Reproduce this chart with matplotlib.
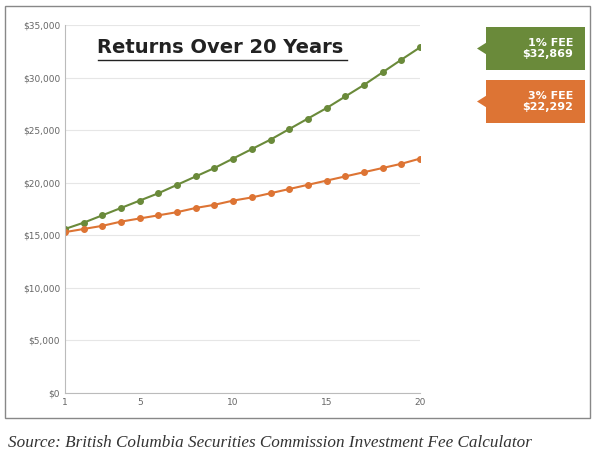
import matplotlib
matplotlib.use("Agg")
import matplotlib.pyplot as plt
from matplotlib.patches import Rectangle, Polygon

years = list(range(1, 21))
fee1 = [15600, 16200, 16900, 17600, 18300, 19000, 19800, 20600, 21400, 22300,
        23200, 24100, 25100, 26100, 27100, 28200, 29300, 30500, 31700, 32869]
fee3 = [15300, 15600, 15900, 16300, 16600, 16900, 17200, 17600, 17900, 18300,
        18600, 19000, 19400, 19800, 20200, 20600, 21000, 21400, 21800, 22292]
yticks = [0, 5000, 10000, 15000, 20000, 25000, 30000, 35000]
xticks = [1, 5, 10, 15, 20]
green = "#6a8a3a"
orange = "#dd7434"

fig = plt.figure(figsize=(6, 4.73), dpi=100)
fig.patches.append(Rectangle((5/600, 1-418/473), 585/600, 412/473, transform=fig.transFigure,
                             fill=False, edgecolor="#888888", lw=1))
ax = fig.add_axes([65/600, 1-393/473, 355/600, 368/473])
ax.plot(years, fee1, color=green, marker="o", ms=4, lw=1.5)
ax.plot(years, fee3, color=orange, marker="o", ms=4, lw=1.5)
ax.set_xlim(1, 20)
ax.set_ylim(0, 35000)
ax.set_xticks(xticks)
ax.set_yticks(yticks)
ax.set_yticklabels([f"${v:,}" for v in yticks])
ax.tick_params(labelsize=6.5, colors="#666666", length=0)
ax.grid(axis="y", color="#e6e6e6", lw=0.8)
for s in ["top", "right"]:
    ax.spines[s].set_visible(False)
for s in ["left", "bottom"]:
    ax.spines[s].set_color("#bbbbbb")
ax.text(0.09, 0.94, "Returns Over 20 Years", transform=ax.transAxes, fontsize=14,
        fontweight="bold", color="#222222", va="center", family="Liberation Sans Narrow")
fig.lines.append(plt.Line2D([98/600, 347/600], [1-60/473, 1-60/473], transform=fig.transFigure,
                            color="#222222", lw=1))

def badge(y0, y1, color, lines):
    x0, x1 = 486/600, 585/600
    yt, yb = 1-y0/473, 1-y1/473
    ym = (yt+yb)/2
    poly = Polygon([(x0, yt), (x1, yt), (x1, yb), (x0, yb), (x0, ym-0.012),
                    (x0-0.015, ym), (x0, ym+0.012)], closed=True, transform=fig.transFigure,
                   facecolor=color, edgecolor="none")
    fig.patches.append(poly)
    fig.text(0.955, ym, lines, ha="right", va="center", color="white", fontsize=8,
             fontweight="bold", linespacing=1.2)

badge(27, 70, green, "1% FEE\n$32,869")
badge(80, 123, orange, "3% FEE\n$22,292")

fig.text(8/600, 1-443/473, "Source: British Columbia Securities Commission Investment Fee Calculator",
         fontsize=12.3, style="italic", family="Liberation Serif", color="#333333", va="center")
fig.savefig("out.png", dpi=100)
